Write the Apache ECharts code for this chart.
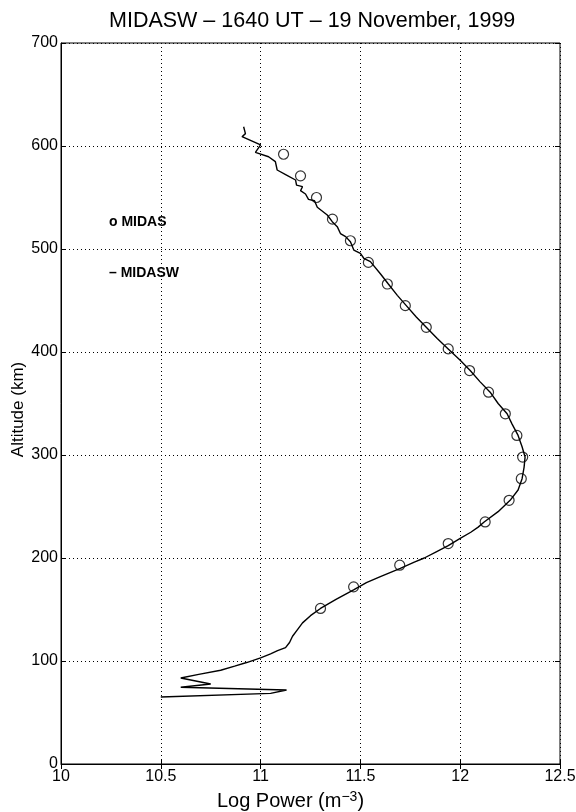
<!DOCTYPE html>
<html>
<head>
<meta charset="utf-8">
<script src="https://cdn.jsdelivr.net/npm/echarts@6/dist/echarts.min.js"></script>
<style>
  html, body { margin: 0; padding: 0; background: #fff; }
  #main { width: 576px; height: 812px; }
</style>
</head>
<body>
<div id="main"></div>
<script>
// MIDAS points (circles)
var midasAlt = [592, 571, 550, 529, 508, 487, 466, 445, 424, 403, 382, 361, 340, 319, 298, 277, 256, 235, 214, 193, 172, 151];
var midasPow = [11.115, 11.20, 11.28, 11.36, 11.45, 11.54, 11.635, 11.725, 11.83, 11.94, 12.047, 12.142, 12.226, 12.284, 12.313, 12.306, 12.245, 12.125, 11.94, 11.697, 11.466, 11.30];

// MIDASW profile (line), bottom to top
var midaswAlt = [65, 68.6, 71.8, 74.5, 77.7, 83.5, 87, 91, 95, 98.5, 103, 107, 110, 113, 118, 124, 130, 137, 144, 151,
  160, 169, 176, 182, 190, 196, 200, 206, 212, 219, 225, 230, 235, 245, 256, 266, 277, 288, 298, 308,
  319, 330, 340, 350, 361, 371, 382, 392, 403, 413, 424, 434, 445, 455, 466, 476,
  487.7, 491, 495.8, 499, 507, 512, 515, 521.7, 526.5, 533, 540.5, 546.9, 548.2, 553.4, 556.6, 560.5, 562, 563.7, 567,
  571.8, 576.7, 584.8, 589.6, 593.8, 601, 609, 612, 618.7];
var midaswPow = [10.50, 11.05, 11.13, 10.60, 10.75, 10.60, 10.69, 10.80, 10.87, 10.93, 11.00, 11.05, 11.085, 11.125, 11.145, 11.16, 11.183, 11.21, 11.25, 11.30,
  11.38, 11.466, 11.53, 11.60, 11.70, 11.77, 11.82, 11.88, 11.94, 12.00, 12.053, 12.09, 12.12, 12.19, 12.25, 12.29, 12.31, 12.32, 12.325, 12.31,
  12.29, 12.26, 12.235, 12.19, 12.15, 12.10, 12.05, 12.00, 11.94, 11.885, 11.83, 11.78, 11.73, 11.685, 11.64, 11.60,
  11.55, 11.517, 11.50, 11.467, 11.45, 11.426, 11.40, 11.384, 11.359, 11.334, 11.284, 11.27, 11.24, 11.225, 11.20, 11.21, 11.18, 11.19, 11.175,
  11.13, 11.083, 11.074, 11.04, 10.974, 11.0, 10.907, 10.924, 10.915];

var xTicks = [10, 10.5, 11, 11.5, 12, 12.5];
var yTicks = [0, 100, 200, 300, 400, 500, 600, 700];

var myChart = echarts.init(document.getElementById('main'));

var font = 'Liberation Sans, Arial, Helvetica, sans-serif';
var grid = { type: [1, 3], color: '#000', width: 1 };

function pairs(xs, ys) {
  return xs.map(function (x, i) { return [x, ys[i]]; });
}

var option = {
  animation: false,
  backgroundColor: '#fff',
  textStyle: { fontFamily: font, color: '#000' },
  title: {
    text: 'MIDASW \u2013 1640 UT \u2013 19 November, 1999',
    left: 104,
    top: 5,
    textStyle: { fontFamily: font, fontSize: 21.5, fontWeight: 'normal', color: '#000' }
  },
  grid: { left: 61, right: 16, top: 43, bottom: 48, show: true, borderColor: '#000', borderWidth: 1, outerBoundsMode: 'none', containLabel: false },
  xAxis: [{
    type: 'value', min: xTicks[0], max: xTicks[xTicks.length - 1], interval: 0.5,
    name: 'Log Power (m{sup|\u22123})', nameLocation: 'middle', nameGap: 25,
    nameTextStyle: { fontFamily: font, fontSize: 20, color: '#000', padding: [0, 40, 0, 0],
      rich: { sup: { fontFamily: font, fontSize: 14, color: '#000', padding: [0, 0, 10, 0] } } },
    axisLine: { show: true, lineStyle: { color: '#000', width: 1 } },
    axisTick: { inside: true, length: 5, lineStyle: { color: '#000' } },
    axisLabel: { fontFamily: font, fontSize: 16, color: '#000', margin: 5 },
    splitLine: { show: true, lineStyle: grid }
  }, {
    type: 'value', position: 'top', min: 10, max: 12.5, interval: 0.5,
    axisLine: { show: false }, axisLabel: { show: false }, splitLine: { show: false },
    axisTick: { inside: true, length: 5, lineStyle: { color: '#000' } }
  }],
  yAxis: [{
    type: 'value', min: yTicks[0], max: yTicks[yTicks.length - 1], interval: 100,
    name: 'Altitude (km)', nameLocation: 'middle', nameGap: 34, nameMoveOverlap: false,
    nameTextStyle: { fontFamily: font, fontSize: 17, color: '#000', padding: [0, 12, 0, 0] },
    axisLine: { show: true, lineStyle: { color: '#000', width: 1 } },
    axisTick: { inside: true, length: 5, lineStyle: { color: '#000' } },
    axisLabel: { fontFamily: font, fontSize: 16, color: '#000', margin: 3 },
    splitLine: { show: true, lineStyle: grid }
  }, {
    type: 'value', position: 'right', min: 0, max: 700, interval: 100,
    axisLine: { show: false }, axisLabel: { show: false }, splitLine: { show: false },
    axisTick: { inside: true, length: 5, lineStyle: { color: '#000' } }
  }],
  graphic: [
    { type: 'text', left: 109, top: 215, style: { text: 'o MIDAS', font: 'bold 14px ' + font, fill: '#000' } },
    { type: 'text', left: 109, top: 266, style: { text: '\u2013 MIDASW', font: 'bold 14px ' + font, fill: '#000' } }
  ],
  series: [{
    name: 'MIDASW', type: 'line', data: pairs(midaswPow, midaswAlt),
    showSymbol: false, symbol: 'none', smooth: false,
    lineStyle: { color: '#000', width: 1.4 }, z: 2
  }, {
    name: 'MIDAS', type: 'scatter', data: pairs(midasPow, midasAlt),
    symbol: 'circle', symbolSize: 10,
    itemStyle: { color: 'rgba(255,255,255,0)', borderColor: '#000', borderWidth: 1.2 }, z: 3
  }]
};

myChart.setOption(option);
</script>
</body>
</html>
